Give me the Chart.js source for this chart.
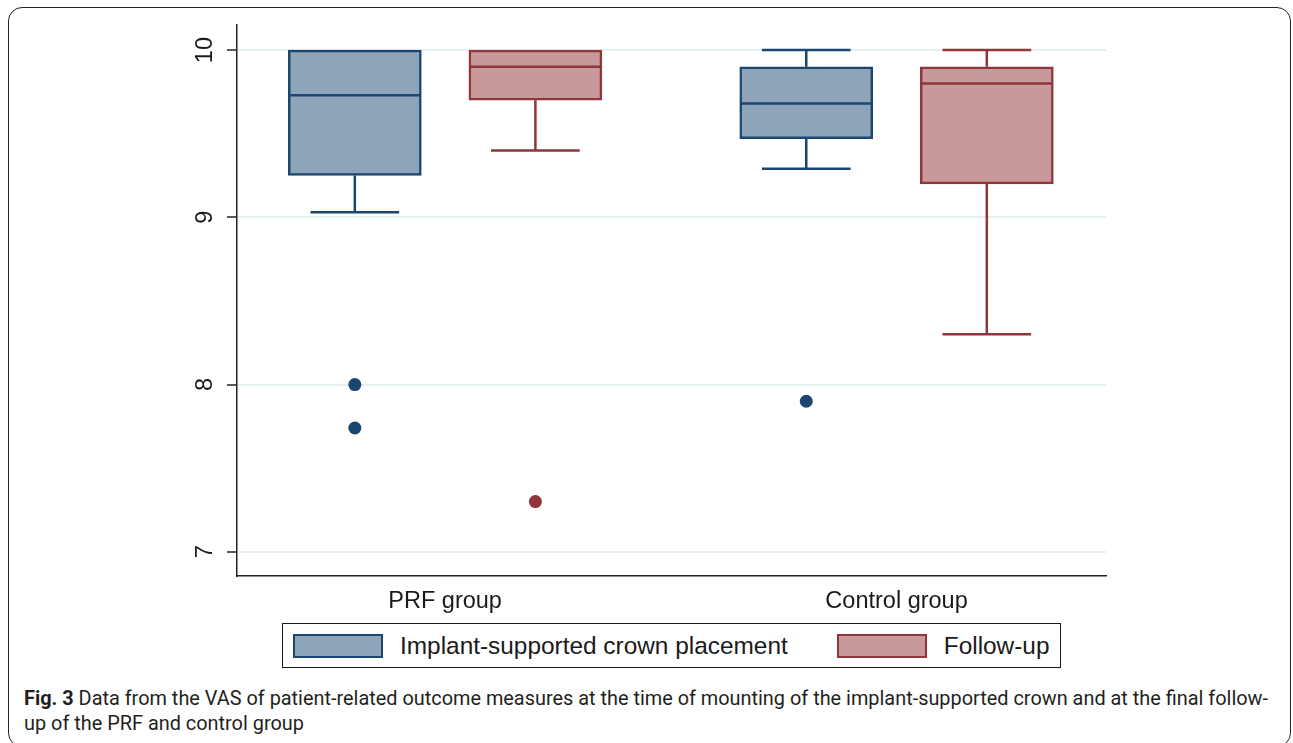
<!DOCTYPE html>
<html>
<head>
<meta charset="utf-8">
<title>Fig. 3</title>
<script src="https://cdn.jsdelivr.net/npm/chart.js@4.4.1/dist/chart.umd.min.js"></script>
<style>
  html, body { margin: 0; padding: 0; background: #fff; }
  body { width: 1293px; height: 743px; position: relative; overflow: hidden; font-family: "Liberation Sans", Arial, Helvetica, sans-serif; }
  .frame { position: absolute; left: 8px; top: 7px; width: 1281px; height: 738px; border: 1.5px solid #222; border-radius: 14px; }
  .chart-wrap { position: absolute; left: 0; top: 0; width: 1293px; height: 626px; }
  #legend { position: absolute; left: 282px; top: 623px; height: 45px; box-sizing: border-box; display: flex; align-items: center;
            padding: 0 11px 0 10px; border: 1.5px solid #1a1a1a; background: #fff; }
  #legend .item { display: flex; align-items: center; }
  #legend .item + .item { margin-left: 49px; }
  #legend .swatch { width: 90px; height: 24px; box-sizing: border-box; border: 2px solid; margin-right: 17px; }
  #legend .text { font-size: 24.4px; color: #1a1a1a; line-height: 24px; white-space: nowrap; }
  .caption { position: absolute; left: 24px; top: 686px; font-family: "Liberation Sans Narrow", Roboto, "Liberation Sans", sans-serif;
             font-size: 20px; line-height: 25px; color: #231f20; white-space: nowrap; }
  .caption .line { display: block; transform-origin: 0 50%; }
  .caption b { font-weight: bold; }
</style>
</head>
<body>
<div class="frame"></div>
<div class="chart-wrap"><canvas id="boxChart"></canvas></div>
<div id="legend"></div>
<div class="caption">
  <span class="line" id="capLine1"><b>Fig. 3</b> Data from the VAS of patient-related outcome measures at the time of mounting of the implant-supported crown and at the final follow-</span>
  <span class="line" id="capLine2">up of the PRF and control group</span>
</div>
<script>
// groups and series
const categories = ['PRF group', 'Control group'];
const seriesLabels = ['Implant-supported crown placement', 'Follow-up'];

// implant-supported crown placement
const implantMin = [9.03, 9.29];
const implantQ1 = [9.25, 9.47];
const implantMedian = [9.73, 9.68];
const implantQ3 = [10, 9.9];
const implantMax = [10, 10];
const implantOutliers = [[8.0, 7.74], [7.9]];

// follow-up
const followMin = [9.4, 8.3];
const followQ1 = [9.7, 9.2];
const followMedian = [9.9, 9.8];
const followQ3 = [10, 9.9];
const followMax = [10, 10];
const followOutliers = [[7.3], []];

const yTicks = [7, 8, 9, 10];

// look
const navy = '#1a476f';
const navyFill = '#8ea4b8';
const maroon = '#90353b';
const maroonFill = '#c8999b';
const seriesOffset = [-0.2, 0.2];

function boxData(q1, q3, off) {
    return categories.map((c, i) => ({ x: i + 1 + off, y: [q1[i], q3[i]] }));
}

function outlierData(outs, off) {
    const pts = [];
    outs.forEach((vals, i) => vals.forEach(v => pts.push({ x: i + 1 + off, y: v })));
    return pts;
}

// medians and whiskers, drawn on top of the floating bars
const boxWhiskers = {
    id: 'boxWhiskers',
    afterDatasetsDraw(chart) {
        const ctx = chart.ctx;
        const y = chart.scales.y;
        chart.data.datasets.forEach((ds, di) => {
            if (!ds.stats) return;
            const meta = chart.getDatasetMeta(di);
            meta.data.forEach((bar, i) => {
                const half = bar.width / 2;
                const cap = bar.width / 3;
                const s = ds.stats;
                const yMin = y.getPixelForValue(s.min[i]);
                const yQ1 = y.getPixelForValue(s.q1[i]);
                const yMed = y.getPixelForValue(s.median[i]);
                const yQ3 = y.getPixelForValue(s.q3[i]);
                const yMax = y.getPixelForValue(s.max[i]);
                ctx.save();
                ctx.strokeStyle = ds.borderColor;
                ctx.lineWidth = 2.5;
                ctx.beginPath();
                ctx.moveTo(bar.x - half + 1, yMed);
                ctx.lineTo(bar.x + half - 1, yMed);
                if (s.min[i] < s.q1[i]) {
                    ctx.moveTo(bar.x, yQ1);
                    ctx.lineTo(bar.x, yMin);
                    ctx.moveTo(bar.x - cap, yMin);
                    ctx.lineTo(bar.x + cap, yMin);
                }
                if (s.max[i] > s.q3[i]) {
                    ctx.moveTo(bar.x, yQ3);
                    ctx.lineTo(bar.x, yMax);
                    ctx.moveTo(bar.x - cap, yMax);
                    ctx.lineTo(bar.x + cap, yMax);
                }
                ctx.stroke();
                ctx.restore();
            });
        });
    }
};

Chart.defaults.font.family = '"Liberation Sans", Arial, Helvetica, sans-serif';
Chart.defaults.color = '#1a1a1a';

const ctx = document.getElementById('boxChart').getContext('2d');
const chart = new Chart(ctx, {
    type: 'bar',
    data: {
        datasets: [{
            label: seriesLabels[0],
            data: boxData(implantQ1, implantQ3, seriesOffset[0]),
            stats: { min: implantMin, q1: implantQ1, median: implantMedian, q3: implantQ3, max: implantMax },
            backgroundColor: navyFill,
            borderColor: navy,
            borderWidth: 2.5,
            borderSkipped: false
        }, {
            label: seriesLabels[1],
            data: boxData(followQ1, followQ3, seriesOffset[1]),
            stats: { min: followMin, q1: followQ1, median: followMedian, q3: followQ3, max: followMax },
            backgroundColor: maroonFill,
            borderColor: maroon,
            borderWidth: 2.5,
            borderSkipped: false
        }, {
            type: 'scatter',
            label: seriesLabels[0] + ' outliers',
            data: outlierData(implantOutliers, seriesOffset[0]),
            pointRadius: 6.5,
            pointBorderWidth: 0,
            pointBackgroundColor: navy
        }, {
            type: 'scatter',
            label: seriesLabels[1] + ' outliers',
            data: outlierData(followOutliers, seriesOffset[1]),
            pointRadius: 6.5,
            pointBorderWidth: 0,
            pointBackgroundColor: maroon
        }]
    },
    options: {
        responsive: true,
        maintainAspectRatio: false,
        animation: false,
        events: [],
        grouped: false,
        barThickness: 133,
        layout: { padding: { left: 180, top: 25, right: 187, bottom: 0 } },
        plugins: {
            legend: { display: false },
            tooltip: { enabled: false }
        },
        scales: {
            x: {
                type: 'linear',
                min: 0.539,
                max: 2.464,
                bounds: 'data',
                offset: false,
                afterBuildTicks: scale => { scale.ticks = categories.map((c, i) => ({ value: i + 1 })); },
                afterFit: scale => { scale.height = 50; scale.paddingLeft = 0; scale.paddingRight = 0; },
                grid: { display: false, drawTicks: false },
                border: { display: true, color: '#222', width: 1.5 },
                ticks: {
                    padding: 11,
                    font: { size: 23.5 },
                    color: '#1a1a1a',
                    callback: (value, index) => categories[index]
                }
            },
            y: {
                min: 6.855,
                max: 10.15,
                bounds: 'data',
                beginAtZero: false,
                afterBuildTicks: scale => { scale.ticks = yTicks.map(v => ({ value: v })); },
                afterFit: scale => { scale.width = 57; scale.paddingTop = 0; scale.paddingBottom = 0; },
                grid: { color: '#e6eff1', lineWidth: 2, tickColor: '#222', tickLength: 10, tickWidth: 1.5 },
                border: { display: true, color: '#222', width: 1.5 },
                ticks: {
                    padding: 8,
                    minRotation: 90,
                    maxRotation: 90,
                    crossAlign: 'center',
                    font: { size: 23.5 },
                    color: '#1a1a1a'
                }
            }
        }
    },
    plugins: [boxWhiskers]
});

// html legend built from the box datasets
const legendBox = document.getElementById('legend');
chart.data.datasets.filter(ds => ds.stats).forEach(ds => {
    const item = document.createElement('div');
    item.className = 'item';
    const swatch = document.createElement('span');
    swatch.className = 'swatch';
    swatch.style.background = ds.backgroundColor;
    swatch.style.borderColor = ds.borderColor;
    const text = document.createElement('span');
    text.className = 'text';
    text.textContent = ds.label;
    item.appendChild(swatch);
    item.appendChild(text);
    legendBox.appendChild(item);
});

// squeeze the caption to the width of the figure column (condensed face in the original)
const capLine1 = document.getElementById('capLine1');
const capLine2 = document.getElementById('capLine2');
capLine1.style.display = 'inline-block';
const squeeze = Math.min(1, 1244 / capLine1.getBoundingClientRect().width);
capLine1.style.display = 'block';
[capLine1, capLine2].forEach(el => { el.style.transform = 'scaleX(' + squeeze + ')'; });
</script>
</body>
</html>
